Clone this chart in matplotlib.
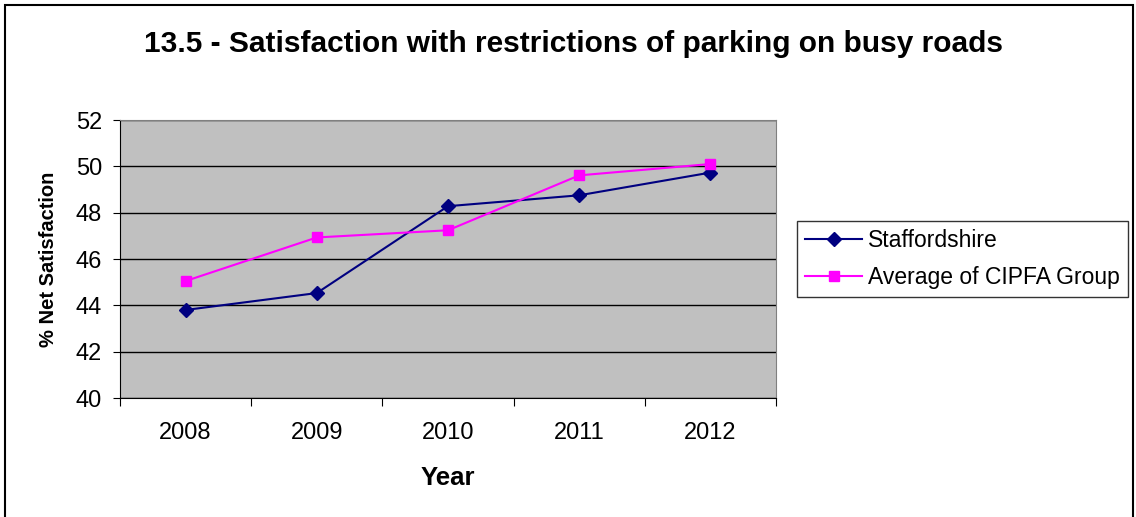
import matplotlib.pyplot as plt
from matplotlib.patches import Rectangle

# ============================================
# DATA
# ============================================
years = ["2008", "2009", "2010", "2011", "2012"]
staffordshire = [43.8, 44.53, 48.28, 48.75, 49.73]
cipfa_avg = [45.05, 46.93, 47.24, 49.61, 50.1]
y_ticks = [40, 42, 44, 46, 48, 50, 52]

plt.rcParams["font.family"] = ["Liberation Sans", "DejaVu Sans"]

fig = plt.figure(figsize=(11.36, 5.17), dpi=100)
ax = fig.add_axes([120 / 1136, 1 - 398 / 517, 656 / 1136, 278 / 517])

# outer chart frame
fig.patches.append(Rectangle((5 / 1136, -0.05), 1128 / 1136, 1.05 - 5 / 517,
                             transform=fig.transFigure, fill=False,
                             edgecolor="black", linewidth=1.5))

x = list(range(len(years)))
ax.set_facecolor("#C0C0C0")
ax.plot(x, staffordshire, color="#000080", marker="D", markersize=7,
        linewidth=1.5, label="Staffordshire", zorder=3)
ax.plot(x, cipfa_avg, color="#FF00FF", marker="s", markersize=7,
        linewidth=1.5, label="Average of CIPFA Group", zorder=3)

ax.set_ylim(40, 52)
ax.set_yticks(y_ticks)
ax.yaxis.grid(True, color="black", linewidth=1)
ax.set_axisbelow(True)

ax.set_xlim(-0.5, len(years) - 0.5)
ax.set_xticks([i - 0.5 for i in range(len(years) + 1)])
ax.set_xticklabels([])
ax.set_xticks(x, minor=True)
ax.set_xticklabels(years, minor=True)
ax.tick_params(axis="x", which="minor", length=0, pad=17, labelsize=17)
ax.tick_params(axis="x", which="major", length=6, color="black")
ax.tick_params(axis="y", length=5, labelsize=17, pad=8)

for side in ["top", "right"]:
    ax.spines[side].set_color("#808080")
for side in ["left", "bottom"]:
    ax.spines[side].set_color("black")

ax.set_xlabel("Year", fontsize=18.5, fontweight="bold")
ax.xaxis.set_label_coords(0.5, -(466 - 398) / 278)
ax.set_ylabel("% Net Satisfaction", fontsize=14.5, fontweight="bold")
ax.yaxis.set_label_coords((58 - 120) / 656, 0.5)

fig.text(574 / 1136, 1 - 44 / 517,
         "13.5 - Satisfaction with restrictions of parking on busy roads",
         ha="center", va="center", fontsize=21.5, fontweight="bold")

leg = ax.legend(loc="center left", bbox_to_anchor=(797 / 1136, 1 - 259 / 517),
                bbox_transform=fig.transFigure, fontsize=16.5, frameon=True,
                fancybox=False, edgecolor="black", borderpad=0.35,
                handlelength=2.5, handletextpad=0.25, labelspacing=0.65,
                borderaxespad=0)
leg.get_frame().set_linewidth(1)

fig.savefig("out.png", dpi=100)
